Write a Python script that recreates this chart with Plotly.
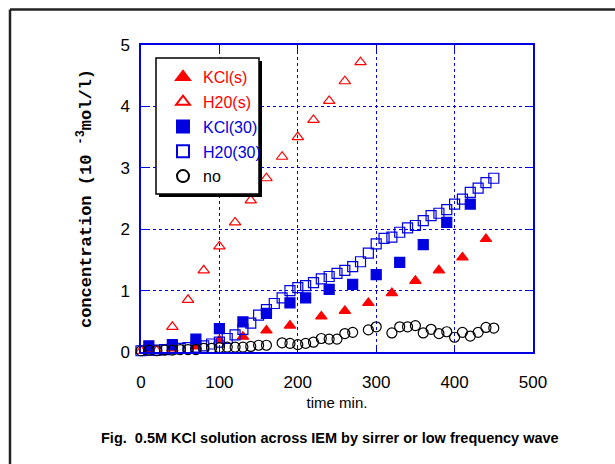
import plotly.graph_objects as go

# ---------------- data ----------------
t_kcl_s = [10, 40, 70, 100, 130, 160, 190, 230, 260, 290, 320, 350, 380, 410, 440]
c_kcl_s = [0.03, 0.06, 0.09, 0.19, 0.25, 0.35, 0.43, 0.58, 0.67, 0.80, 0.96, 1.16, 1.33, 1.54, 1.84]

t_h2o_s = [0, 20, 40, 60, 80, 100, 120, 140, 160, 180, 200, 220, 240, 260, 280]
c_h2o_s = [0.02, 0.02, 0.41, 0.85, 1.33, 1.72, 2.11, 2.47, 2.83, 3.18, 3.50, 3.78, 4.09, 4.41, 4.72]

t_kcl_30 = [10, 40, 70, 100, 130, 160, 190, 210, 240, 270, 300, 330, 360, 390, 420]
c_kcl_30 = [0.10, 0.12, 0.21, 0.38, 0.49, 0.63, 0.80, 0.88, 1.02, 1.10, 1.26, 1.46, 1.75, 2.11, 2.41]

t_h2o_30 = [0, 10, 20, 30, 40, 50, 60, 70, 80, 90, 100, 110, 120, 130, 140, 150, 160, 170, 180, 190,
            200, 210, 220, 230, 240, 250, 260, 270, 280, 290, 300, 310, 320, 330, 340, 350, 360, 370,
            380, 390, 400, 410, 420, 430, 440, 450]
c_h2o_30 = [0.02, 0.03, 0.03, 0.04, 0.05, 0.06, 0.07, 0.08, 0.10, 0.13, 0.16, 0.22, 0.28, 0.37, 0.47,
            0.60, 0.69, 0.79, 0.88, 1.00, 1.05, 1.08, 1.13, 1.19, 1.23, 1.28, 1.33, 1.39, 1.47, 1.61,
            1.76, 1.85, 1.87, 1.95, 2.02, 2.06, 2.14, 2.22, 2.26, 2.32, 2.41, 2.49, 2.60, 2.67, 2.76, 2.83]

t_no = [0, 10, 20, 30, 40, 50, 60, 70, 80, 90, 100, 110, 120, 130, 140, 150, 160, 180, 190, 200,
        210, 220, 230, 240, 250, 260, 270, 290, 300, 320, 330, 340, 350, 360, 370, 380, 390, 400,
        410, 420, 430, 440, 450]
c_no = [0.02, 0.03, 0.02, 0.03, 0.03, 0.04, 0.04, 0.04, 0.06, 0.06, 0.07, 0.08, 0.08, 0.08, 0.09,
        0.11, 0.11, 0.15, 0.14, 0.12, 0.14, 0.16, 0.22, 0.21, 0.21, 0.30, 0.32, 0.36, 0.41, 0.31,
        0.41, 0.41, 0.43, 0.31, 0.37, 0.30, 0.33, 0.24, 0.32, 0.26, 0.32, 0.40, 0.39]

x_ticks = [0, 100, 200, 300, 400, 500]
y_ticks = [0, 1, 2, 3, 4, 5]

RED = "#ff0000"
BLUE = "#0000e0"
SANS = "Liberation Sans, Arial, sans-serif"

# ---------------- figure ----------------
W, H = 615, 464
L, R, T, B = 141, 533, 45, 352  # plot area in pixels


def px(x):
    return (x - L) / (R - L)


def py(y):
    return (B - y) / (B - T)


fig = go.Figure()

series = [
    ("KCl(s)", t_kcl_s, c_kcl_s, "triangle-up", RED, 10),
    ("H20(s)", t_h2o_s, c_h2o_s, "triangle-up-open", RED, 10),
    ("KCl(30)", t_kcl_30, c_kcl_30, "square", BLUE, 10),
    ("H20(30)", t_h2o_30, c_h2o_30, "square-open", BLUE, 10),
    ("no", t_no, c_no, "circle-open", "#000000", 10),
]
for i, (name, xs, ys, sym, col, size) in enumerate(series):
    fig.add_trace(go.Scatter(
        x=xs, y=ys, mode="markers", name=f"<span style='color:{col}'>{name}</span>",
        legendgroup=f"g{i}",
        marker=dict(symbol=sym, color=col, size=size, line=dict(color=col, width=1.2)),
        cliponaxis=False,
    ))

axis_common = dict(
    showline=True, linecolor=BLUE, linewidth=1.5, mirror="ticks",
    ticks="inside", ticklen=6, tickcolor=BLUE, tickwidth=1,
    showgrid=True, gridcolor=BLUE, griddash="dot", gridwidth=1,
    zeroline=False,
    tickfont=dict(family=SANS, size=17, color="#000"),
)

fig.update_xaxes(
    range=[0, 500], tickvals=x_ticks, ticktext=[str(v) for v in x_ticks],
    ticklabelstandoff=14,
    title=dict(text="time min.", font=dict(family=SANS, size=15, color="#000"), standoff=6),
    **axis_common,
)
fig.update_yaxes(
    range=[0, 5], tickvals=y_ticks, ticktext=[str(v) for v in y_ticks],
    ticklabelstandoff=6,
    title=dict(text="<b>concentration (10 <sup>-3</sup>mol/l)</b>",
               font=dict(family="Liberation Mono, DejaVu Sans Mono, monospace", size=17, color="#000"),
               standoff=24),
    **axis_common,
)

# legend box with shadow
lx0, ly0, lx1, ly1 = 156, 58, 259, 194
shapes = [
    dict(type="rect", xref="paper", yref="paper", x0=px(lx0 + 3), x1=px(lx1 + 3), y0=py(ly1 + 3), y1=py(ly0 + 3),
         fillcolor="#000", line=dict(width=0), layer="above"),
    dict(type="rect", xref="paper", yref="paper", x0=px(lx0), x1=px(lx1), y0=py(ly1), y1=py(ly0),
         fillcolor="#fff", line=dict(color="#000", width=1.5), layer="above"),
    # outer figure frame
    dict(type="line", xref="paper", yref="paper", x0=px(10), x1=px(615), y0=py(9.5), y1=py(9.5),
         line=dict(color="#222", width=2.5)),
    dict(type="line", xref="paper", yref="paper", x0=px(10), x1=px(10), y0=py(9.5), y1=py(464),
         line=dict(color="#222", width=2.5)),
]

fig.update_layout(
    width=W, height=H,
    margin=dict(l=L, r=W - R, t=T, b=H - B, pad=0),
    paper_bgcolor="#fff", plot_bgcolor="#fff",
    showlegend=True,
    legend=dict(
        x=px(lx0 + 7), y=py(ly0 + 2), xanchor="left", yanchor="top",
        bgcolor="rgba(0,0,0,0)", borderwidth=0,
        font=dict(family=SANS, size=16, color="#000"),
        tracegroupgap=1, itemsizing="constant",
    ),
    shapes=shapes,
    annotations=[
        dict(text="<b>Fig.  0.5M KCl solution across IEM by sirrer or low frequency wave</b>",
             xref="paper", yref="paper", x=px(330), y=py(438), showarrow=False,
             xanchor="center", yanchor="middle",
             font=dict(family=SANS, size=14.5, color="#000")),
    ],
)

fig.write_html("out.html")
